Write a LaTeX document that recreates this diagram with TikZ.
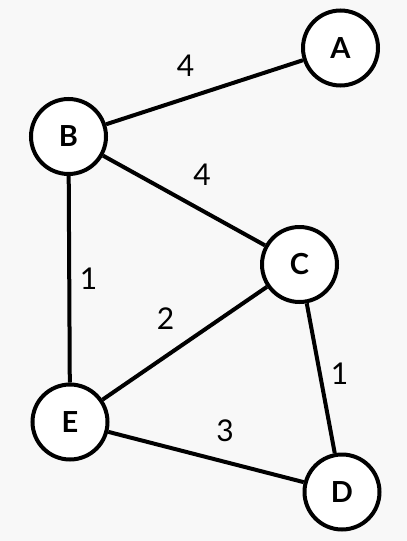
\documentclass[tikz,border=0pt]{standalone}
\usepackage{fontspec}
\setmainfont{Lato}
\definecolor{bgcol}{HTML}{F8F8F8}
\begin{document}
\begin{tikzpicture}[x=1pt,y=-1pt,
  vertex/.style={circle,draw=black,fill=white,line width=4pt,minimum size=75pt,inner sep=0pt,font=\fontsize{29}{32}\selectfont\bfseries},
  edge/.style={line width=4pt,black},
  wlabel/.style={font=\fontsize{30}{32}\selectfont,inner sep=0pt}]
\fill[bgcol] (0,0) rectangle (407,541);
\useasboundingbox (0,0) rectangle (407,541);
\node[vertex] (A) at (340.5,48) {A};
\node[vertex] (B) at (68.5,136.5) {B};
\node[vertex] (C) at (299.5,264.5) {C};
\node[vertex] (E) at (70,422) {E};
\node[vertex] (D) at (342,492) {D};
\draw[edge] (B) -- (A);
\draw[edge] (B) -- (C);
\draw[edge] (B) -- (E);
\draw[edge] (E) -- (C);
\draw[edge] (C) -- (D);
\draw[edge] (E) -- (D);
\node[wlabel] (lAB) at (185.5,66) {4};
\node[wlabel] (lBC) at (202,174.5) {4};
\node[wlabel] (lBE) at (88.5,279) {1};
\node[wlabel] (lCE) at (165.5,318.5) {2};
\node[wlabel] (lCD) at (339.5,373.5) {1};
\node[wlabel] (lED) at (225,431) {3};
\end{tikzpicture}
\end{document}
